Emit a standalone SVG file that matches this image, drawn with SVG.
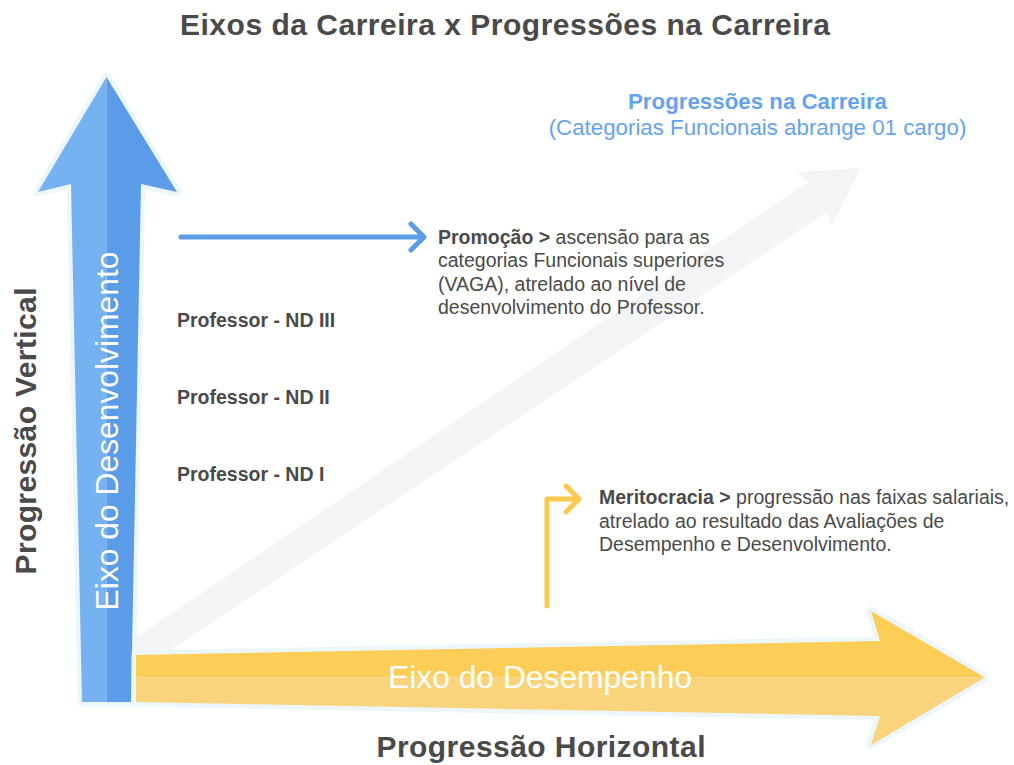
<svg xmlns="http://www.w3.org/2000/svg" width="1014" height="765" viewBox="0 0 1014 765">
<style>
text{font-family:"Liberation Sans",Arial,sans-serif;}
.dark{fill:#4a4a4a;}
.b{font-weight:bold;}
.body{font-size:19.5px;fill:#4a4a4a;}
.outline{fill:#edf6fa;stroke:#edf6fa;stroke-width:9;stroke-linejoin:round;}
.conn{fill:none;stroke-width:5;stroke-linecap:round;stroke-linejoin:round;}
.white{fill:#ffffff;font-size:31.8px;}
</style>
<rect width="1014" height="765" fill="#ffffff"/>

<text x="505" y="35" text-anchor="middle" class="dark b" font-size="30" textLength="650">Eixos da Carreira x Progressões na Carreira</text>

<g id="diagonal">
<polygon points="133,641 810,182 798,173 859,169 832,223 828,210 166,652 133,652" fill="#f3f4f6" stroke="#f3f4f6" stroke-width="2" stroke-linejoin="round"/>
</g>

<g id="eixo-desenvolvimento">
<polygon class="outline" points="106.5,77 177,192 141,184 131,702 82,702 71,184 38,192"/>
<polygon points="106.5,77 106.5,702 82,702 71,184 38,192" fill="#76b1f2"/>
<polygon points="106.5,77 177,192 141,184 131,702 106.5,702" fill="#5b9ce9"/>
<text transform="translate(118,431) rotate(-90)" text-anchor="middle" class="white">Eixo do Desenvolvimento</text>
</g>

<g id="eixo-desempenho">
<polygon class="outline" points="136,655 880,641 871,611 985,677.5 871,745 880,716 136,702"/>
<polygon points="136,655 880,641 871,611 985,677.5 136,677.5" fill="#fccd57"/>
<polygon points="136,677.5 985,677.5 871,745 880,716 136,702" fill="#fad47c"/>
<text x="540" y="688" text-anchor="middle" class="white">Eixo do Desempenho</text>
</g>

<g id="progressao-vertical">
<text transform="translate(36,431) rotate(-90)" text-anchor="middle" class="dark b" font-size="30" textLength="287">Progressão Vertical</text>
</g>

<g id="progressao-horizontal">
<text x="541" y="757" text-anchor="middle" class="dark b" font-size="30" textLength="329">Progressão Horizontal</text>
</g>

<g id="progressoes-carreira">
<text x="757.5" y="109" text-anchor="middle" font-size="22.3" font-weight="bold" fill="#66a3ee">Progressões na Carreira</text>
<text x="757.5" y="135" text-anchor="middle" font-size="22.3" fill="#66a3ee">(Categorias Funcionais abrange 01 cargo)</text>
</g>

<g id="nd3"><text x="177" y="327" class="body b">Professor - ND III</text></g>
<g id="nd2"><text x="177" y="404" class="body b">Professor - ND II</text></g>
<g id="nd1"><text x="177" y="481" class="body b">Professor - ND I</text></g>

<g id="promocao">
<text class="body" x="438" y="243.5"><tspan font-weight="bold">Promoção &gt;</tspan> ascensão para as</text>
<text class="body" x="438" y="267">categorias Funcionais superiores</text>
<text class="body" x="438" y="290.5">(VAGA), atrelado ao nível de</text>
<text class="body" x="438" y="314">desenvolvimento do Professor.</text>
</g>

<g id="meritocracia">
<text class="body" x="599" y="504"><tspan font-weight="bold">Meritocracia &gt;</tspan> progressão nas faixas salariais,</text>
<text class="body" x="599" y="527.5">atrelado ao resultado das Avaliações de</text>
<text class="body" x="599" y="551">Desempenho e Desenvolvimento.</text>
</g>

<g id="connectors">
<path class="conn" stroke="#5b9ce9" d="M181,237 H424 M411,224 L424,237 L411,250"/>
<path class="conn" stroke="#fcc94f" stroke-width="4.5" d="M547,606 V499 H579 M566,486 L579,499 L566,512"/>
</g>
</svg>
